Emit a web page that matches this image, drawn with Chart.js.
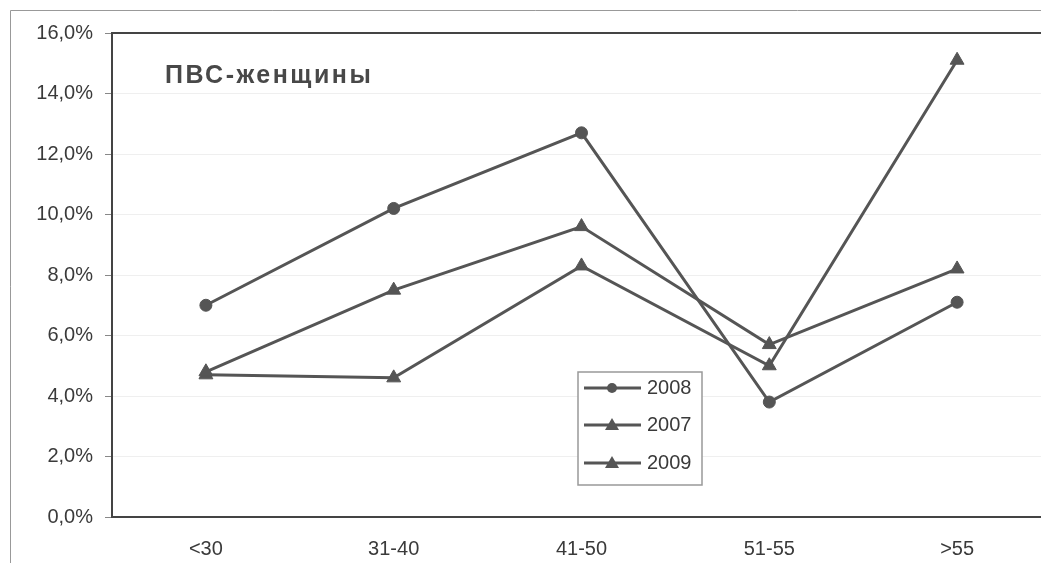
<!DOCTYPE html>
<html lang="ru">
<head>
<meta charset="utf-8">
<title>ПВС-женщины</title>
<script src="https://cdn.jsdelivr.net/npm/chart.js@4/dist/chart.umd.min.js"></script>
<style>
    html, body { margin: 0; padding: 0; background: #fff; overflow: hidden; }
    #wrap { position: relative; width: 1060px; height: 563px; }
</style>
</head>
<body>
<div id="wrap"><canvas id="chart"></canvas></div>
<script>
// Данные (в процентах)
const categories = ['<30', '31-40', '41-50', '51-55', '>55'];
const values2008 = [7.0, 10.2, 12.7, 3.8, 7.1];
const values2007 = [4.8, 7.5, 9.6, 5.7, 8.2];
const values2009 = [4.7, 4.6, 8.3, 5.0, 15.1];
const yTicks = [0, 2, 4, 6, 8, 10, 12, 14, 16];
const chartTitle = 'ПВС-женщины';

const lineColor = '#555';
const textColor = '#3a3a3a';
const fontFamily = '"Liberation Sans", Arial, sans-serif';

// Рамка вокруг всей диаграммы и верхняя граница области построения
const framePlugin = {
    id: 'frame',
    beforeDraw(chart) {
        const ctx = chart.ctx;
        ctx.save();
        ctx.fillStyle = '#fff';
        ctx.fillRect(0, 0, chart.width, chart.height);
        ctx.strokeStyle = '#999';
        ctx.lineWidth = 1;
        ctx.beginPath();
        ctx.moveTo(10.5, 563);
        ctx.lineTo(10.5, 10.5);
        ctx.lineTo(chart.width, 10.5);
        ctx.stroke();
        ctx.restore();
    },
    afterDatasetsDraw(chart) {
        const ctx = chart.ctx;
        const a = chart.chartArea;
        ctx.save();
        ctx.strokeStyle = '#444';
        ctx.lineWidth = 2;
        ctx.beginPath();
        ctx.moveTo(a.left, a.top);
        ctx.lineTo(a.right, a.top);
        ctx.stroke();
        // заголовок внутри области
        ctx.fillStyle = '#484848';
        ctx.font = 'bold 25px ' + fontFamily;
        ctx.letterSpacing = '2.5px';
        ctx.textBaseline = 'middle';
        ctx.fillText(chartTitle, 165, 76);
        ctx.restore();
    }
};

// Легенда в рамке внутри области построения
const legendBoxPlugin = {
    id: 'legendBox',
    afterDraw(chart) {
        const ctx = chart.ctx;
        const x0 = 578, y0 = 372, w = 124, h = 113;
        ctx.save();
        ctx.fillStyle = '#fff';
        ctx.fillRect(x0, y0, w, h);
        ctx.strokeStyle = '#999';
        ctx.lineWidth = 1.5;
        ctx.strokeRect(x0, y0, w, h);
        const rows = [388, 425, 463];
        chart.data.datasets.forEach((ds, i) => {
            const y = rows[i];
            ctx.strokeStyle = ds.borderColor;
            ctx.lineWidth = 3;
            ctx.beginPath();
            ctx.moveTo(584, y);
            ctx.lineTo(641, y);
            ctx.stroke();
            ctx.fillStyle = ds.pointBackgroundColor;
            ctx.beginPath();
            if (ds.pointStyle === 'circle') {
                ctx.arc(612, y, 5, 0, Math.PI * 2);
            } else {
                ctx.moveTo(612, y - 7);
                ctx.lineTo(619, y + 5);
                ctx.lineTo(605, y + 5);
                ctx.closePath();
            }
            ctx.fill();
            ctx.fillStyle = textColor;
            ctx.font = '20px ' + fontFamily;
            ctx.textBaseline = 'middle';
            ctx.fillText(ds.label, 647, y);
        });
        ctx.restore();
    }
};

function makeDataset(label, data, style, radius) {
    return {
        label: label,
        data: data,
        borderColor: lineColor,
        backgroundColor: lineColor,
        pointBackgroundColor: lineColor,
        pointBorderColor: lineColor,
        pointStyle: style,
        pointRadius: radius,
        pointBorderWidth: 1,
        borderWidth: 3,
        fill: false,
        tension: 0
    };
}

const ctx = document.getElementById('chart').getContext('2d');
new Chart(ctx, {
    type: 'line',
    data: {
        labels: categories,
        datasets: [
            makeDataset('2008', values2008, 'circle', 6),
            makeDataset('2007', values2007, 'triangle', 8),
            makeDataset('2009', values2009, 'triangle', 8)
        ]
    },
    options: {
        responsive: true,
        maintainAspectRatio: false,
        animation: false,
        layout: { padding: { top: 33, right: 8, bottom: 0, left: 0 } },
        plugins: {
            legend: { display: false },
            title: { display: false },
            tooltip: { enabled: false }
        },
        scales: {
            x: {
                offset: true,
                grid: { display: false },
                border: { display: true, color: '#444', width: 2 },
                ticks: {
                    color: textColor,
                    font: { family: fontFamily, size: 20 },
                    padding: 12,
                    maxRotation: 0
                },
                afterFit(scale) { scale.height = 46; }
            },
            y: {
                min: 0,
                max: 16,
                afterBuildTicks(scale) {
                    scale.ticks = yTicks.map(v => ({ value: v }));
                },
                grid: {
                    color: '#efefef',
                    tickColor: '#888',
                    tickLength: 7
                },
                border: { display: true, color: '#444', width: 2 },
                ticks: {
                    color: textColor,
                    font: { family: fontFamily, size: 20 },
                    padding: 12,
                    callback: v => v.toFixed(1).replace('.', ',') + '%'
                },
                afterFit(scale) { scale.width = 112; }
            }
        }
    },
    plugins: [framePlugin, legendBoxPlugin]
});
</script>
</body>
</html>
